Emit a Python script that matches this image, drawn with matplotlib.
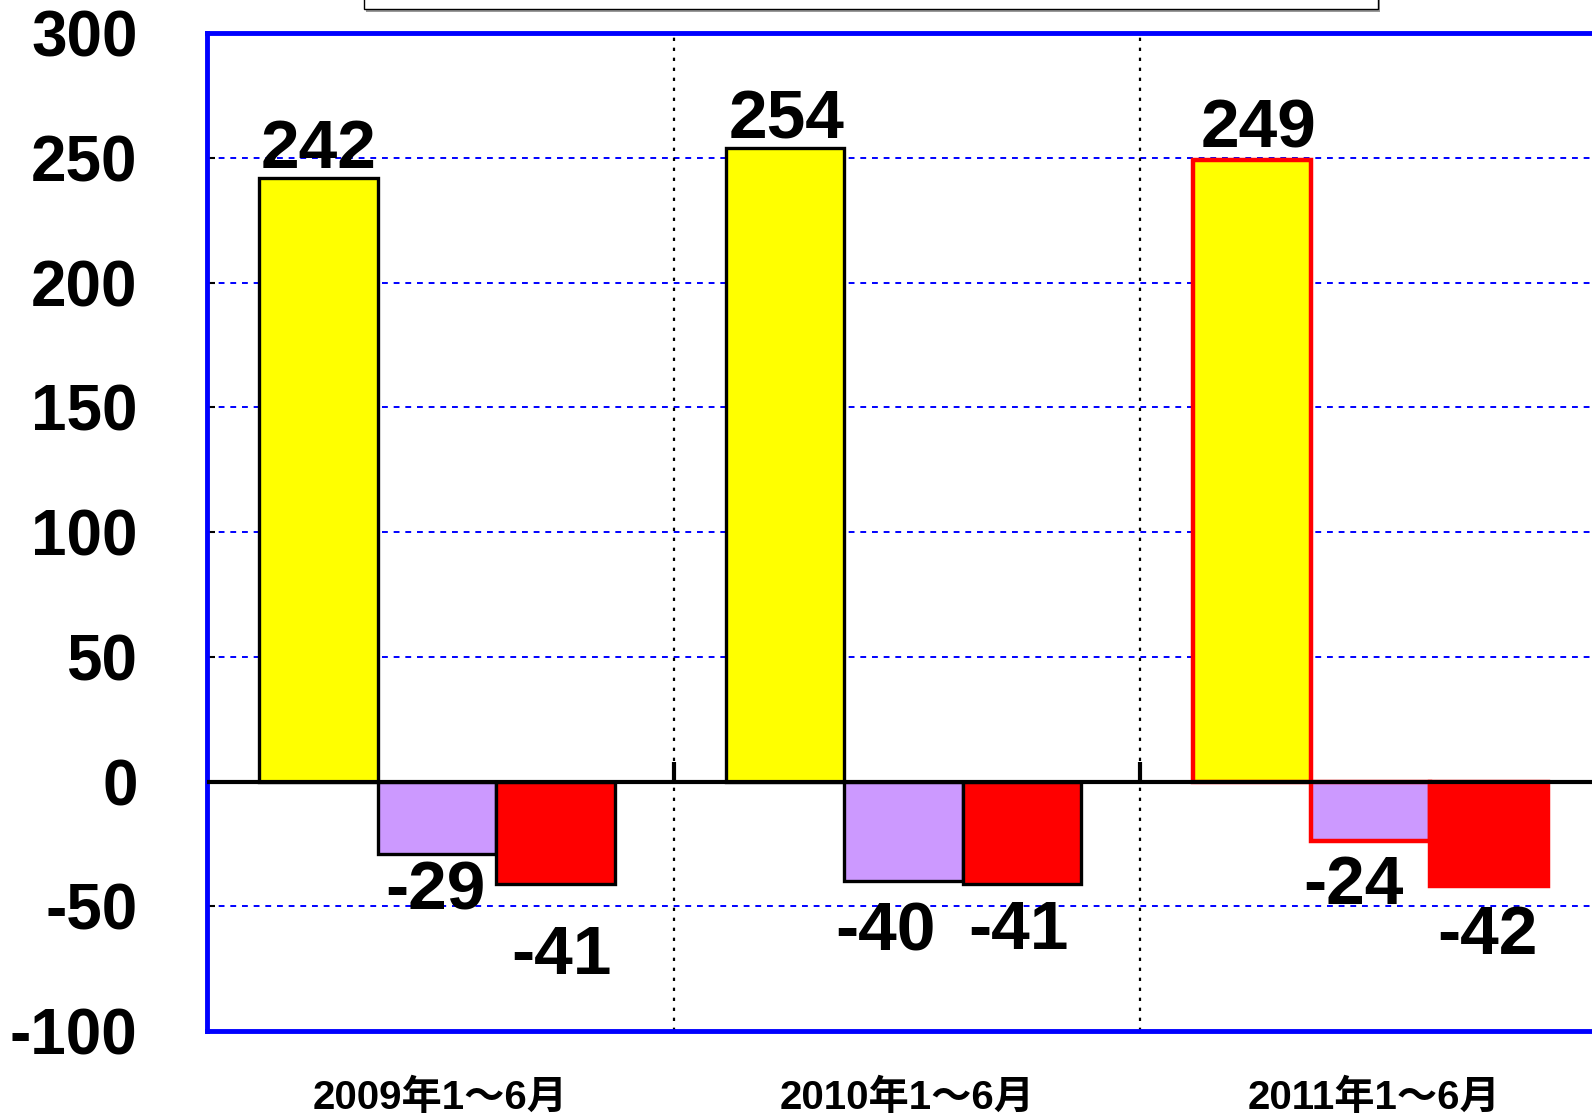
import numpy as np
import matplotlib.pyplot as plt
from matplotlib.patches import Rectangle

# Data
periods = ['2009年1～6月', '2010年1～6月', '2011年1～6月']
series_a = [242, 254, 249]     # yellow bars
series_b = [-29, -40, -24]     # purple bars
series_c = [-41, -41, -42]     # red bars
y_ticks = [-100, -50, 0, 50, 100, 150, 200, 250, 300]


def draw_chart():
    plt.rcParams['font.family'] = ['Liberation Sans', 'Noto Sans CJK JP', 'DejaVu Sans']
    plt.rcParams['font.weight'] = 'bold'
    plt.rcParams['axes.unicode_minus'] = False

    fig = plt.figure(figsize=(15.92, 11.15), dpi=100)
    # plot area runs past the right edge of the picture, as in the reference
    ax = fig.add_axes([0.130, 0.0753, 0.8794, 0.8951])

    x = np.arange(len(periods)) - 0.007
    w = 0.254
    edges = ['black', 'black', 'red']
    edge_w = [2.4, 2.4, 3.2]
    colors = ['#FFFF00', '#CC99FF', '#FF0000']
    all_series = [series_a, series_b, series_c]

    # label offsets in points (hand placed in the original)
    dx = [[0, 1, 5], [-1, -13, -12], [4, -3, -1]]
    dy = [[20, 20, 22], [-27, -37, -32], [-52, -34, -36]]

    ax.yaxis.grid(True, color='blue', linestyle=(0, (3, 3)), linewidth=1.4, zorder=0)
    ax.set_axisbelow(True)

    for k, (vals, col) in enumerate(zip(all_series, colors)):
        bars = ax.bar(x + (k - 1) * w, vals, w, color=col, edgecolor=edges,
                      linewidth=edge_w, zorder=2)
        for i, b in enumerate(bars):
            v = vals[i]
            ax.annotate(str(v), (b.get_x() + b.get_width() / 2, v),
                        xytext=(dx[k][i], dy[k][i]), textcoords='offset points',
                        ha='center', va='center', fontsize=50, fontweight='bold',
                        zorder=5)

    # group separators
    seps = np.arange(len(periods) - 1) + 0.5
    for b in seps:
        ax.axvline(b, color='black', linestyle=(0, (1.5, 3)), linewidth=1.6, zorder=1)
    ax.vlines(seps, 0, 8, color='black', linewidth=3, zorder=3)
    ax.axhline(0, color='black', linewidth=3, zorder=3)

    ax.set_xlim(-0.5, len(periods) - 0.5)
    ax.set_ylim(-100, 300)
    ax.set_yticks(y_ticks)
    ax.set_xticks(np.arange(len(periods)))
    ax.set_xticklabels(periods)

    ax.tick_params(axis='y', direction='in', length=6, width=1.5, color='black',
                   labelsize=46, pad=50)
    ax.tick_params(axis='x', length=0, labelsize=29, pad=34)

    for side in ['top', 'left', 'bottom']:
        ax.spines[side].set_color('blue')
        ax.spines[side].set_linewidth(3.5)
    ax.spines['right'].set_visible(False)

    # legend box, cut off by the top edge
    fig.patches.append(Rectangle((0.2300, 0.9895), 0.637, 0.03, transform=fig.transFigure,
                                 facecolor='#999999', edgecolor='none'))
    fig.patches.append(Rectangle((0.2286, 0.9919), 0.637, 0.03, transform=fig.transFigure,
                                 facecolor='white', edgecolor='black', linewidth=1))

    fig.savefig('out.png', dpi=100)


def main():
    draw_chart()


if __name__ == "__main__":
    main()
